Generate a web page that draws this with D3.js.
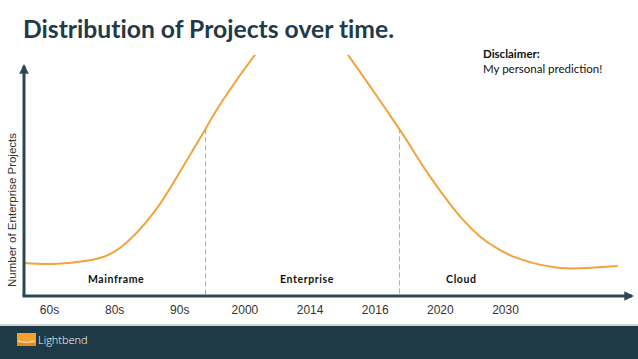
<!DOCTYPE html>
<html>
<head>
<meta charset="utf-8">
<script src="https://cdn.jsdelivr.net/npm/d3@7"></script>
<style>
  body { margin: 0; background: #fff; }
  svg { display: block; }
</style>
</head>
<body>
<div id="chart"></div>
<script>
"use strict";

// tick labels along the time axis
const tick_labels = ["60s", "80s", "90s", "2000", "2014", "2016", "2020", "2030"];

// curve: position in tick units, height in % of axis
const curve_pos = [-0.38, 0.06, 0.58, 1.09, 1.63, 2.01, 2.40, 2.67, 3.16, 3.50, 3.87,
                   4.26, 4.59, 5.37, 5.60, 5.85, 6.11, 6.36, 6.62, 6.88, 7.13, 7.44, 7.85, 8.26, 8.73];
const curve_val = [14.3, 13.9, 15.3, 20.9, 37.1, 54.0, 72.5, 85.2, 104.8, 115.4, 119.1,
                   115.1, 104.8, 72.9, 62.7, 51.9, 41.7, 33.0, 25.8, 20.7, 17.1, 14.3, 12.2, 12.2, 13.0];

// era dividers and labels
const divider_pos = [2.40, 5.38];
const divider_top = [72.5, 72.9];
const era_names = ["Mainframe", "Enterprise", "Cloud"];
const era_pos = [1.03, 3.96, 6.33];

const width = 638, height = 359;
const orange = "#f1a33c";
const slate = "#2c4653";

const svg = d3.select("#chart").append("svg")
    .attr("width", width)
    .attr("height", height);

const x = d3.scaleLinear().domain([0, 7]).range([49, 505]);
const y = d3.scaleLinear().domain([0, 100]).range([296, 66]);

// title
svg.append("text")
    .attr("x", 23).attr("y", 38)
    .text("Distribution of Projects over time.")
    .style("font-family", "Lato")
    .style("font-weight", "bold")
    .style("font-size", "24.7px")
    .style("font-variant-ligatures", "none")
    .style("fill", "#1f3a49");

// disclaimer
svg.append("text")
    .attr("x", 483).attr("y", 58)
    .text("Disclaimer:")
    .style("font-family", "Lato")
    .style("font-weight", "bold")
    .style("font-size", "11.5px")
    .style("fill", "#111");

svg.append("text")
    .attr("x", 483).attr("y", 73)
    .text("My personal prediction!")
    .style("font-family", "Lato")
    .style("font-size", "11.5px")
    .style("fill", "#111");

// clip the top of the curve
svg.append("defs").append("clipPath")
    .attr("id", "clip")
    .append("rect")
    .attr("x", 0).attr("y", 55)
    .attr("width", width).attr("height", 260);

const pts = curve_pos.map((p, i) => [p, curve_val[i]]);

const line = d3.line()
    .x(d => x(d[0]))
    .y(d => y(d[1]))
    .curve(d3.curveNatural);

// dashed dividers
svg.selectAll(".divider")
    .data(divider_pos)
    .enter().append("line")
    .attr("class", "divider")
    .attr("x1", d => Math.round(x(d)) + 0.5).attr("x2", d => Math.round(x(d)) + 0.5)
    .attr("y1", (d, i) => y(divider_top[i]))
    .attr("y2", y(0))
    .style("stroke", orange)
    .style("stroke-width", 1)
    .style("stroke-dasharray", "5,3");

svg.append("path")
    .datum(pts)
    .attr("d", line)
    .attr("clip-path", "url(#clip)")
    .style("fill", "none")
    .style("stroke", orange)
    .style("stroke-width", 2);

// era labels
svg.selectAll(".era")
    .data(era_names)
    .enter().append("text")
    .attr("class", "era")
    .attr("x", (d, i) => x(era_pos[i]))
    .attr("y", 283)
    .attr("text-anchor", "middle")
    .text(d => d)
    .style("font-family", "Lato")
    .style("font-weight", "bold")
    .style("font-size", "10.5px")
    .style("letter-spacing", "0.6px")
    .style("fill", "#111");

// axes with arrows
const defs = svg.select("defs");
defs.append("marker")
    .attr("id", "arrow")
    .attr("viewBox", "0 0 10 10")
    .attr("refX", 8).attr("refY", 5)
    .attr("markerWidth", 3.2).attr("markerHeight", 3.2)
    .attr("orient", "auto")
    .append("path")
    .attr("d", "M0,0 L10,5 L0,10 Z")
    .style("fill", slate);

svg.append("line")
    .attr("x1", 24).attr("y1", y(0))
    .attr("x2", 24).attr("y2", 66)
    .attr("marker-end", "url(#arrow)")
    .style("stroke", slate)
    .style("stroke-width", 3);

svg.append("line")
    .attr("x1", 22.5).attr("y1", y(0))
    .attr("x2", 632).attr("y2", y(0))
    .attr("marker-end", "url(#arrow)")
    .style("stroke", slate)
    .style("stroke-width", 3);

// tick labels
const xAxis = d3.axisBottom(x)
    .tickValues(d3.range(tick_labels.length))
    .tickFormat(i => tick_labels[i])
    .tickSize(0)
    .tickPadding(0);

const gx = svg.append("g")
    .attr("transform", "translate(0,305)")
    .call(xAxis);
gx.select(".domain").remove();
gx.selectAll("text")
    .attr("dy", "0.71em")
    .style("font-family", "Liberation Sans")
    .style("font-size", "12px")
    .style("fill", "#333");

// y label
svg.append("text")
    .attr("transform", "translate(16,210) rotate(-90)")
    .attr("text-anchor", "middle")
    .text("Number of Enterprise Projects")
    .style("font-family", "Liberation Sans")
    .style("font-size", "11.5px")
    .style("fill", "#333");

// footer
svg.append("rect")
    .attr("x", 0).attr("y", 324)
    .attr("width", width).attr("height", 2)
    .style("fill", "#cfd4d7");
svg.append("rect")
    .attr("x", 0).attr("y", 326)
    .attr("width", width).attr("height", height - 326)
    .style("fill", "#1e3a46");

svg.append("rect")
    .attr("x", 17).attr("y", 333)
    .attr("width", 19).attr("height", 13)
    .style("fill", "#f7a030");
svg.append("rect")
    .attr("x", 17).attr("y", 343)
    .attr("width", 19).attr("height", 3)
    .style("fill", "#e08a20");
svg.append("path")
    .attr("d", "M18,341 Q26.5,344 35,341")
    .style("fill", "none")
    .style("stroke", "#fff")
    .style("stroke-width", 0.8);

svg.append("text")
    .attr("x", 38).attr("y", 344)
    .text("Lightbend")
    .style("font-family", "Open Sans")
    .style("font-weight", "300")
    .style("font-size", "11px")
    .style("fill", "#fff");
</script>
</body>
</html>
